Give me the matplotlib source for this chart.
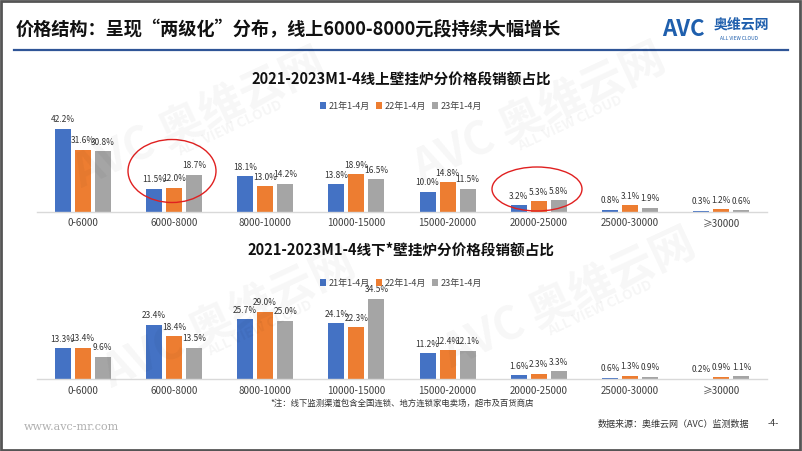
import numpy as np
import matplotlib.pyplot as plt
from matplotlib.patches import Ellipse, Rectangle

plt.rcParams['font.family'] = ['Noto Sans CJK SC', 'DejaVu Sans']

# data
categories = ["0-6000", "6000-8000", "8000-10000", "10000-15000",
              "15000-20000", "20000-25000", "25000-30000", "≥30000"]
series_names = ["21年1-4月", "22年1-4月", "23年1-4月"]
online_21 = [42.2, 11.5, 18.1, 13.8, 10.0, 3.2, 0.8, 0.3]
online_22 = [31.6, 12.0, 13.0, 18.9, 14.8, 5.3, 3.1, 1.2]
online_23 = [30.8, 18.7, 14.2, 16.5, 11.5, 5.8, 1.9, 0.6]
offline_21 = [13.3, 23.4, 25.7, 24.1, 11.2, 1.6, 0.6, 0.2]
offline_22 = [13.4, 18.4, 29.0, 22.3, 12.4, 2.3, 1.3, 0.9]
offline_23 = [9.6, 13.5, 25.0, 34.5, 12.1, 3.3, 0.9, 1.1]

colors = ["#4472C4", "#ED7D31", "#A5A5A5"]
W, H = 802, 451

fig = plt.figure(figsize=(8.02, 4.51), dpi=100)
fig.patch.set_facecolor("white")


def fx(px):
    return px / W


def fy(py):
    return 1 - py / H


# header
fig.text(fx(16), fy(30), "价格结构：呈现“两级化”分布，线上6000-8000元段持续大幅增长",
         fontsize=13.1, fontweight="bold", va="center", ha="left", color="#111111")
fig.add_artist(plt.Line2D([fx(14), fx(788)], [fy(50), fy(50)], color="#2F5597", lw=1.6))
fig.text(fx(662), fy(30), "AVC", fontsize=16, fontweight="bold", style="italic",
         color="#1F5FAD", va="center", ha="left")
fig.text(fx(714), fy(25), "奥维云网", fontsize=10, fontweight="bold",
         color="#1F5FAD", va="center", ha="left")
fig.text(fx(720), fy(38), "ALL VIEW CLOUD", fontsize=3.5, color="#1F5FAD",
         va="center", ha="left")

# watermarks
for (x, y) in [(200, 120), (540, 115), (230, 320), (570, 300)]:
    fig.text(fx(x), fy(y), "AVC 奥维云网", fontsize=32, fontweight="bold",
             color="#000000", alpha=0.035, rotation=25, ha="center", va="center")
    fig.text(fx(x + 30), fy(y + 8), "ALL VIEW CLOUD", fontsize=10, fontweight="bold",
             color="#000000", alpha=0.04, rotation=25, ha="center", va="center")


def draw_panel(bottom_px, top_px, px_per_pct, values, title, title_y, legend_y):
    ax = fig.add_axes([fx(37), fy(bottom_px), fx(767) - fx(37),
                       (bottom_px - top_px) / H])
    ax.set_facecolor("none")
    x = np.arange(len(categories))
    bw = 0.176
    step = 0.22
    for i, vals in enumerate(values):
        xs = x + (i - 1) * step
        ax.bar(xs, vals, width=bw, color=colors[i], label=series_names[i], zorder=2)
        for xi, v in zip(xs, vals):
            ax.text(xi, v + 4.5 / px_per_pct, f"{v:.1f}%", ha="center", va="bottom",
                    fontsize=6, color="#333333")
    ax.set_xlim(-0.5, len(categories) - 0.5)
    ax.set_ylim(0, (bottom_px - top_px) / px_per_pct)
    for s in ["top", "right", "left"]:
        ax.spines[s].set_visible(False)
    ax.spines["bottom"].set_color("#D9D9D9")
    ax.spines["bottom"].set_linewidth(1.0)
    ax.set_yticks([])
    ax.set_xticks(x)
    ax.set_xticklabels(categories, fontsize=7, color="#404040")
    ax.tick_params(axis="x", length=0, pad=5)
    fig.text(0.5, fy(title_y), title, fontsize=10.5, fontweight="bold",
             ha="center", va="center", color="#111111")
    ax.legend(loc="center", bbox_to_anchor=(0.5, fy(legend_y)),
              bbox_transform=fig.transFigure, ncol=3, frameon=False,
              fontsize=6.5, handlelength=0.7, handleheight=0.7,
              handletextpad=0.3, columnspacing=0.6, labelcolor="#404040")
    return ax


draw_panel(211.5, 116, 1.96, [online_21, online_22, online_23],
           "2021-2023M1-4线上壁挂炉分价格段销额占比", 80, 106)
draw_panel(379, 288, 2.32, [offline_21, offline_22, offline_23],
           "2021-2023M1-4线下*壁挂炉分价格段销额占比", 250, 283)

# red ellipses
for (cx, cy, w, h) in [(172, 171, 88, 63), (537, 189, 90, 44)]:
    fig.add_artist(Ellipse((fx(cx), fy(cy)), w / W, h / H, fill=False,
                           edgecolor="#E02020", lw=1.0, transform=fig.transFigure))

# footnotes
fig.text(fx(270), fy(403), "*注：线下监测渠道包含全国连锁、地方连锁家电卖场，超市及百货商店",
         fontsize=6, color="#333333", ha="left", va="center")
fig.text(fx(24), fy(427), "www.avc-mr.com", fontsize=8, color="#B0B0B0",
         family="DejaVu Serif", ha="left", va="center")
fig.text(fx(598), fy(424), "数据来源：奥维云网（AVC）监测数据", fontsize=6.5,
         color="#333333", ha="left", va="center")
fig.text(fx(768), fy(424), "-4-", fontsize=6.5, color="#333333", ha="left", va="center")

# frame
fig.add_artist(Rectangle((0.001, 0.002), 0.997, 0.996, fill=False, edgecolor="#555555",
                         lw=2, transform=fig.transFigure))

fig.savefig("out.png", dpi=100)
